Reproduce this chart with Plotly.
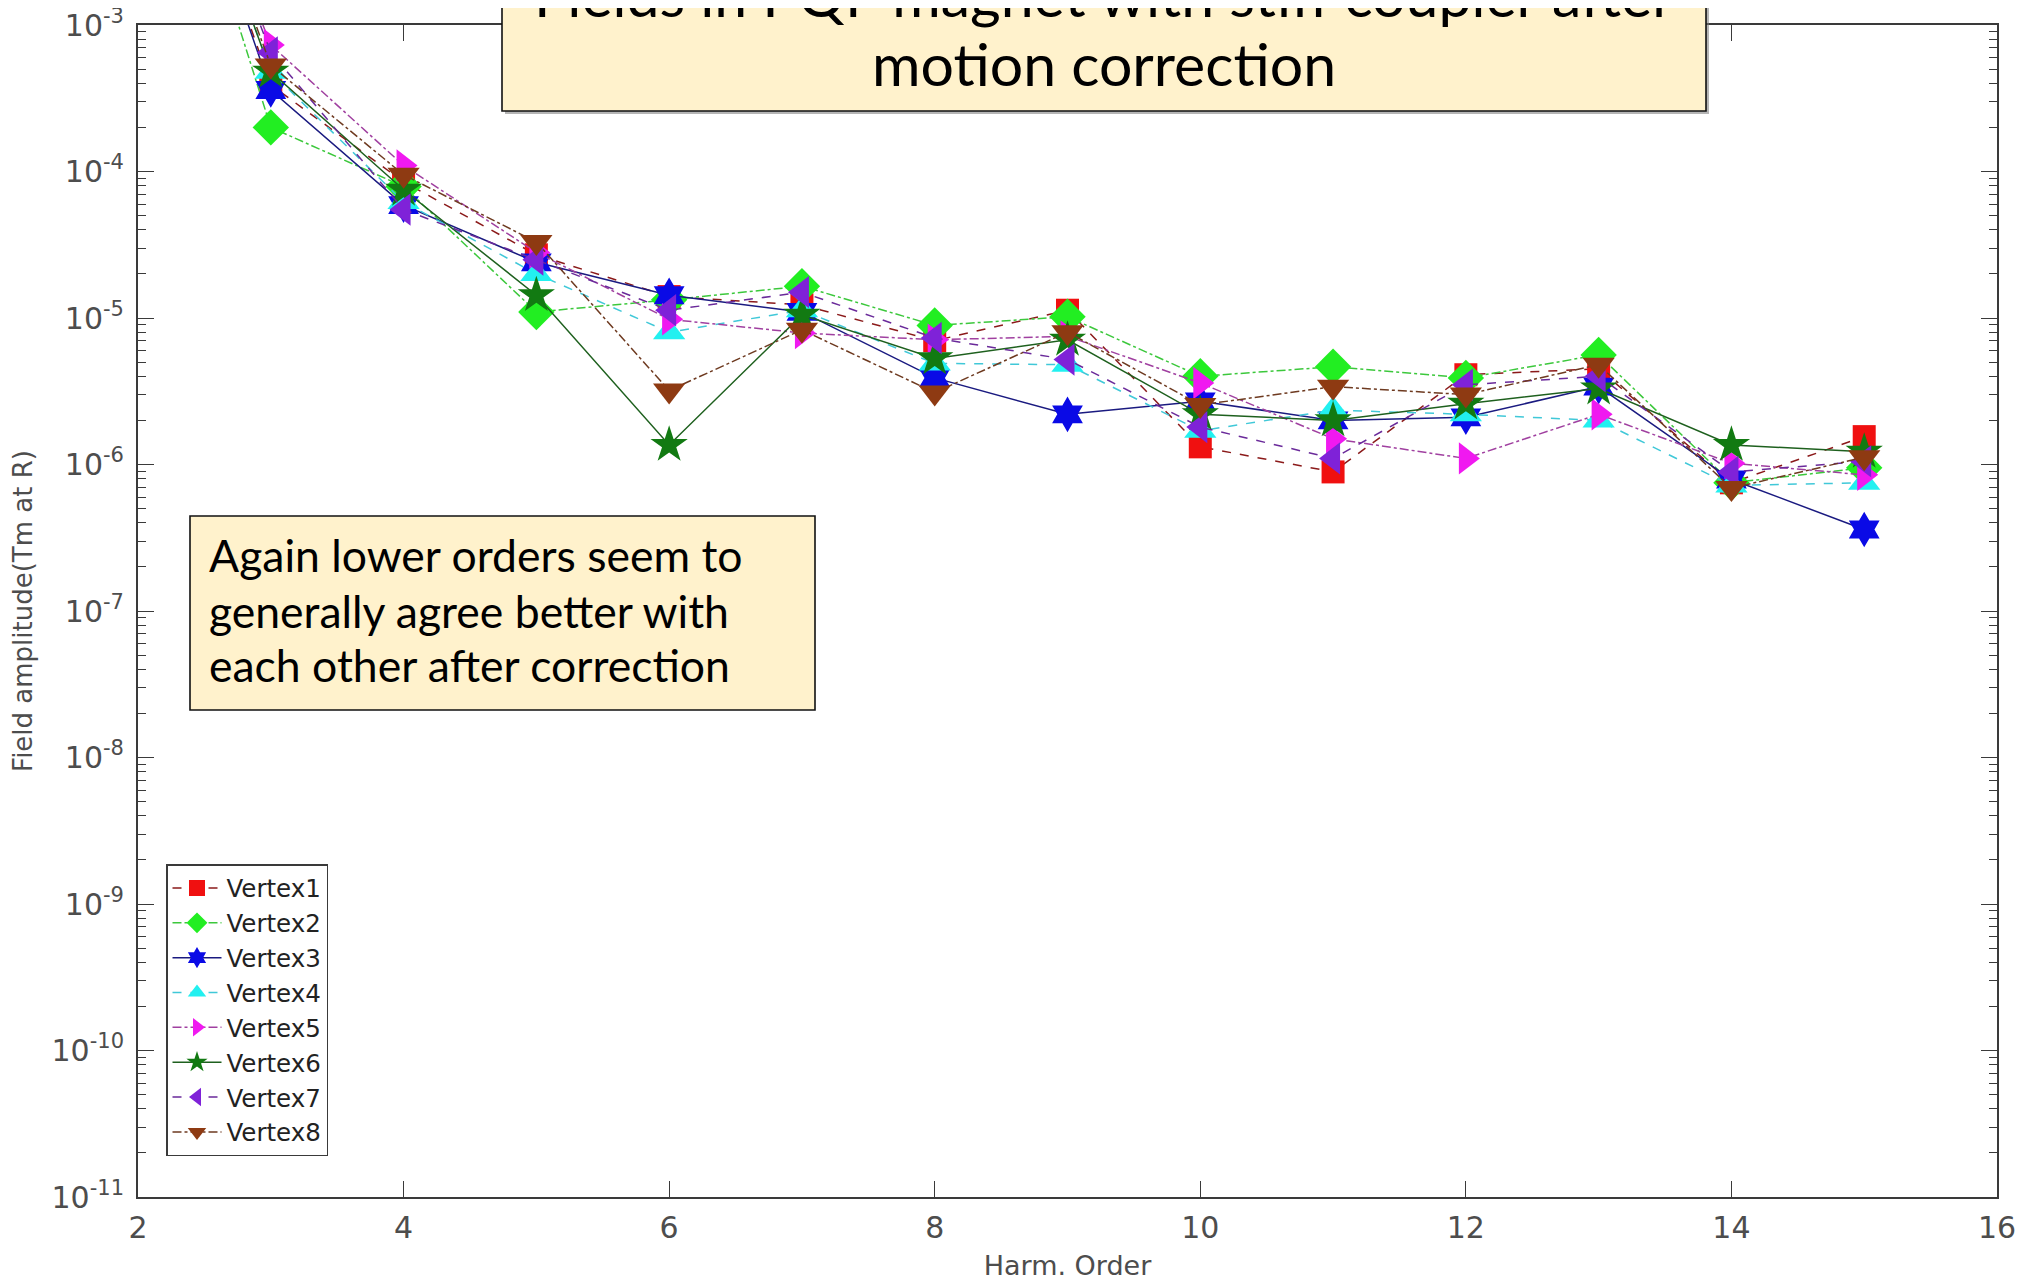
import plotly.graph_objects as go

# ---------------- data ----------------
orders = [2, 3, 4, 5, 6, 7, 8, 9, 10, 11, 12, 13, 14, 15]

vertex1 = [0.15, 3.9e-4, 8.5e-5, 2.7e-5, 1.4e-5, 1.23e-5, 7.0e-6, 1.13e-5, 1.32e-6, 8.9e-7, 4.1e-6, 4.5e-6, 7.5e-7, 1.55e-6]
vertex2 = [0.15, 2.0e-4, 7.9e-5, 1.1e-5, 1.33e-5, 1.65e-5, 8.9e-6, 1.02e-5, 4.0e-6, 4.65e-6, 3.9e-6, 5.6e-6, 7.5e-7, 9.5e-7]
vertex3 = [0.15, 3.6e-4, 5.9e-5, 2.4e-5, 1.43e-5, 1.1e-5, 3.9e-6, 2.2e-6, 2.7e-6, 2.0e-6, 2.1e-6, 3.4e-6, 7.9e-7, 3.6e-7]
vertex4 = [0.15, 4.8e-4, 6.2e-5, 2.0e-5, 8.0e-6, 1.13e-5, 4.9e-6, 4.8e-6, 1.7e-6, 2.35e-6, 2.2e-6, 2.0e-6, 7.2e-7, 7.5e-7]
vertex5 = [0.15, 7.3e-4, 1.1e-4, 2.8e-5, 9.8e-6, 7.9e-6, 7.1e-6, 7.5e-6, 3.6e-6, 1.5e-6, 1.1e-6, 2.2e-6, 1.02e-6, 8.5e-7]
vertex6 = [0.15, 4.8e-4, 7.5e-5, 1.43e-5, 1.36e-6, 1.05e-5, 5.3e-6, 7.1e-6, 2.2e-6, 2.0e-6, 2.6e-6, 3.3e-6, 1.36e-6, 1.22e-6]
vertex7 = [0.15, 6.5e-4, 5.5e-5, 2.5e-5, 1.13e-5, 1.5e-5, 7.3e-6, 5.2e-6, 1.8e-6, 1.1e-6, 3.5e-6, 4.0e-6, 8.9e-7, 1.05e-6]
vertex8 = [0.15, 5.3e-4, 9.5e-5, 3.3e-5, 3.2e-6, 8.3e-6, 3.1e-6, 8.0e-6, 2.55e-6, 3.4e-6, 3.0e-6, 4.8e-6, 6.9e-7, 1.12e-6]

series_names = ["Vertex1", "Vertex2", "Vertex3", "Vertex4", "Vertex5", "Vertex6", "Vertex7", "Vertex8"]
series_values = [vertex1, vertex2, vertex3, vertex4, vertex5, vertex6, vertex7, vertex8]

x_tick_vals = [2, 4, 6, 8, 10, 12, 14, 16]
y_exponents = [-11, -10, -9, -8, -7, -6, -5, -4, -3]

title_lines = ["Fields in PQF magnet with stiff coupler after", "motion correction"]
note_lines = ["Again lower orders seem to", "generally agree better with", "each other after correction"]

# ---------------- styles ----------------
marker_symbols = ["square", "diamond", "hexagram", "triangle-up", "triangle-right", "star", "triangle-left", "triangle-down"]
marker_colors = ["#F01010", "#22EE22", "#0A0AE6", "#22F0F0", "#F019F0", "#127A12", "#7F22D8", "#8E3A12"]
line_colors = ["#8B1A1A", "#3CC83C", "#1A1A80", "#40C8D8", "#A040A0", "#1E601E", "#6A2A9A", "#6E3A20"]
line_dashes = ["dash", "dashdot", "solid", "dash", "dashdot", "solid", "dash", "dashdot"]
marker_sizes = [23, 28, 27, 28, 28, 28, 28, 28]

fig = go.Figure()
for name, vals, sym, mc, lc, dash, ms in zip(series_names, series_values, marker_symbols,
                                             marker_colors, line_colors, line_dashes, marker_sizes):
    fig.add_trace(go.Scatter(
        x=orders, y=vals, name=name, mode="lines+markers",
        line=dict(color=lc, width=1.5, dash=dash),
        marker=dict(symbol=sym, color=mc, size=ms, line=dict(width=0)),
    ))

axis_color = "#3a3a3a"
label_color = "#4d4d4d"
tick_font = dict(family="DejaVu Sans", size=30, color=label_color)

minor_vals = [k * 10.0 ** e for e in y_exponents[:-1] for k in range(2, 10)]

fig.update_xaxes(
    range=[2, 16], tickmode="array", tickvals=x_tick_vals,
    ticktext=[str(v) for v in x_tick_vals],
    ticks="inside", ticklen=16, tickwidth=1.2, tickcolor=axis_color,
    showline=True, linecolor=axis_color, linewidth=2, mirror="ticks",
    showgrid=False, zeroline=False, tickfont=tick_font, automargin=False,
    ticklabelstandoff=3, ticklabeloverflow="allow",
    title=dict(text="Harm. Order", font=dict(family="DejaVu Sans", size=27, color=label_color), standoff=12),
)
fig.update_yaxes(
    type="log", range=[-11, -3], tickmode="array",
    tickvals=[10.0 ** e for e in y_exponents],
    ticktext=["10<sup>%d</sup>" % e for e in y_exponents],
    ticks="inside", ticklen=16, tickwidth=1.2, tickcolor=axis_color,
    minor=dict(ticks="inside", ticklen=8, tickwidth=1, tickcolor=axis_color,
               tickmode="array", tickvals=minor_vals, showgrid=False),
    showline=True, linecolor=axis_color, linewidth=2, mirror="ticks",
    showgrid=False, zeroline=False, tickfont=tick_font, automargin=False,
    ticklabelstandoff=6, ticklabeloverflow="allow",
    title=dict(text="Field amplitude(Tm at R)", font=dict(family="DejaVu Sans", size=26, color=label_color), standoff=18),
)

# geometry helpers (paper coords), page pixel positions of the plot area
L, R, T, B = 138, 1997, 25, 1197
PAGE_OFFSET = 8  # default body margin of the html page
def px(x):
    return (x - L) / (R - L)
def py(y):
    return (B - y) / (B - T)

shapes = []
# title box (extends above the figure, cut off)
shapes.append(dict(type="rect", xref="paper", yref="paper", x0=px(505), x1=px(1709), y0=py(114), y1=py(-60),
                   line=dict(width=0), fillcolor="rgba(120,120,120,0.55)", layer="above"))
shapes.append(dict(type="rect", xref="paper", yref="paper", x0=px(502), x1=px(1706), y0=py(111), y1=py(-60),
                   line=dict(color="#111111", width=1.6), fillcolor="#FFF2CC", layer="above"))
# note box
shapes.append(dict(type="rect", xref="paper", yref="paper", x0=px(190), x1=px(815), y0=py(710), y1=py(516),
                   line=dict(color="#111111", width=1.6), fillcolor="#FFF2CC", layer="above"))

annotations = []
title_centers = [-6, 64]
for txt, yc in zip(title_lines, title_centers):
    annotations.append(dict(text=txt, xref="paper", yref="paper", x=px(1104), y=py(yc),
                            xanchor="center", yanchor="middle", showarrow=False,
                            font=dict(family="Lato", size=59, color="black")))
note_centers = [554, 610, 664]
for txt, yc in zip(note_lines, note_centers):
    annotations.append(dict(text=txt, xref="paper", yref="paper", x=px(207), y=py(yc),
                            xanchor="left", yanchor="middle", showarrow=False,
                            font=dict(family="Lato", size=44.5, color="black")))

W, H = 2023 - PAGE_OFFSET, 1283 - PAGE_OFFSET
fig.update_layout(
    width=W, height=H,
    margin=dict(l=L - PAGE_OFFSET, r=2023 - R, t=T - PAGE_OFFSET, b=1283 - B),
    paper_bgcolor="white", plot_bgcolor="white",
    shapes=shapes, annotations=annotations,
    legend=dict(x=px(166), y=py(864), xanchor="left", yanchor="top",
                bgcolor="white", bordercolor=axis_color, borderwidth=1.5,
                font=dict(family="DejaVu Sans", size=24.5, color="#222222"),
                tracegroupgap=0, itemwidth=49),
    showlegend=True,
)

fig.write_html("out.html")
